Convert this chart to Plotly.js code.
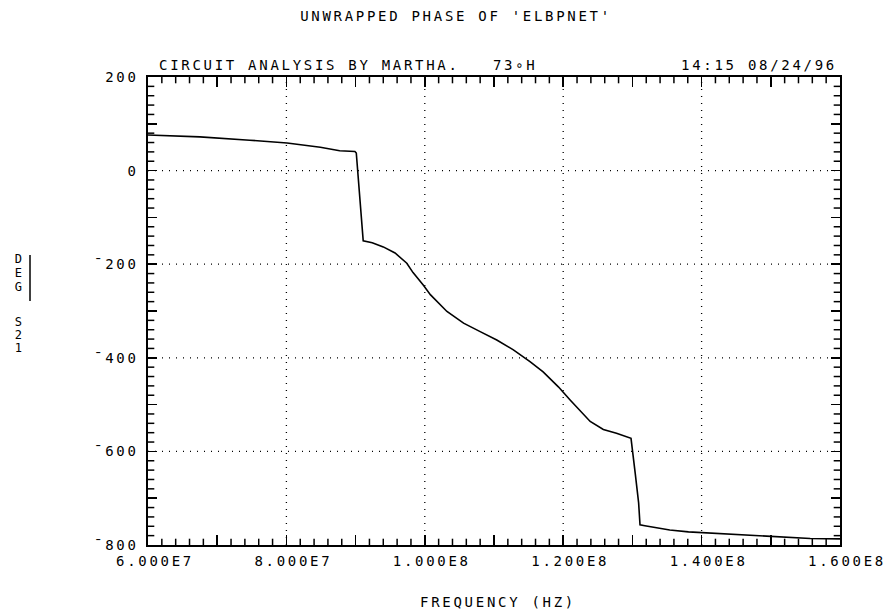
<!DOCTYPE html>
<html>
<head>
<meta charset="utf-8">
<script src="https://cdn.plot.ly/plotly-3.0.1.min.js"></script>
<style>
  html, body { margin: 0; padding: 0; background: #fff; }
  #chart svg text { letter-spacing: 2.7px; }
</style>
</head>
<body>
<div id="chart" style="width:893px;height:615px;"></div>
<script>
// ---- data ----
const freqHz = [
  6.00e7, 6.75e7, 7.47e7, 8.01e7, 8.49e7, 8.77e7, 8.99e7, 9.01e7,
  9.11e7, 9.24e7, 9.40e7, 9.57e7, 9.74e7, 9.83e7, 9.98e7, 1.008e8,
  1.032e8, 1.056e8, 1.080e8, 1.104e8, 1.128e8, 1.152e8, 1.171e8, 1.193e8,
  1.210e8, 1.239e8, 1.258e8, 1.277e8, 1.298e8, 1.300e8, 1.304e8, 1.309e8,
  1.311e8, 1.318e8, 1.354e8, 1.381e8, 1.431e8, 1.470e8, 1.509e8, 1.557e8, 1.600e8
];
const phaseDeg = [
  76, 72, 65, 59, 50, 42.5, 40.8, 37.6,
  -150, -154, -163, -176, -198, -218, -245, -265,
  -301, -326, -344, -362, -383, -408, -430, -462,
  -490, -536, -553, -561, -572, -601, -646, -710,
  -757, -759, -768, -772, -776, -779, -783, -786, -787
];
// tick labels: raw d3-formatted text -> text shown in the reference
const xRawLabels = ['6.000e+7', '8.000e+7', '1.000e+8', '1.200e+8', '1.400e+8', '1.600e+8'];
const xTickText  = ['6.000E7', '8.000E7', '1.000E8', '1.200E8', '1.400E8', '1.600E8'];
const yRawLabels = ['\u2212200', '\u2212400', '\u2212600', '\u2212800'];
const yTickText  = ['\u00AF200', '\u00AF400', '\u00AF600', '\u00AF800'];
const xRange = [6e7, 1.6e8];
const yRange = [-800, 200];
const xMajorStep = 1e7, xMinorPerMajor = 5;
const yMajorStep = 100, yMinorPerMajor = 5;
const xGrid = [8e7, 1e8, 1.2e8, 1.4e8];
const yGrid = [0, -200, -400, -600];
const titleText = "UNWRAPPED PHASE OF 'ELBPNET'";
const headerLeft = 'CIRCUIT ANALYSIS BY MARTHA.   73\u2218H';
const headerRight = '14:15 08/24/96';
const xTitle = 'FREQUENCY (HZ)';
const yLabelTop = ['D', 'E', 'G'];
const yLabelBottom = ['S', '2', '1'];

// ---- layout helpers (pixel -> paper) ----
const L = 148, R = 53, T = 77, B = 70, W = 893, H = 615;
const pw = W - L - R, ph = H - T - B;
const px = x => (x - L) / pw;
const py = y => (H - B - y) / ph;
const FONT = { family: 'DejaVu Sans Mono, Liberation Mono, monospace', size: 14, color: '#000' };
const SMALL = Object.assign({}, FONT, { size: 12 });

const xAlias = {}; xRawLabels.forEach((k, i) => { xAlias[k] = xTickText[i]; });
const yAlias = {}; yRawLabels.forEach((k, i) => { yAlias[k] = yTickText[i]; yAlias[k.replace('\u2212', '-')] = yTickText[i]; });

const annotations = [
  { text: titleText, x: px(456), y: py(16) },
  { text: headerLeft, x: px(348), y: py(65) },
  { text: headerRight, x: px(759), y: py(65) },
  { text: xTitle, x: px(498), y: py(602) }
];
const topY = [259, 273, 287];
const botY = [322, 335, 348];
yLabelTop.forEach((c, i) => annotations.push({ text: c, x: px(19), y: py(topY[i]), font: SMALL }));
yLabelBottom.forEach((c, i) => annotations.push({ text: c, x: px(19), y: py(botY[i]), font: SMALL }));
annotations.forEach(a => {
  a.xref = 'paper'; a.yref = 'paper'; a.showarrow = false;
  a.xanchor = 'center'; a.yanchor = 'middle';
  if (!a.font) a.font = FONT;
});

const shapes = [];
const dotLine = { color: '#000', width: 1.3, dash: '1px,6px' };
xGrid.forEach(v => shapes.push({ type: 'line', xref: 'x', yref: 'paper', x0: v, x1: v, y0: 0, y1: 1, layer: 'below', line: dotLine }));
yGrid.forEach(v => shapes.push({ type: 'line', xref: 'paper', yref: 'y', x0: 0, x1: 1, y0: v, y1: v, layer: 'below', line: dotLine }));
shapes.push({ type: 'line', xref: 'paper', yref: 'paper', x0: px(30), x1: px(30), y0: py(255), y1: py(301), line: { color: '#000', width: 1.5 } });

// minor tick positions between the major ticks
const xMinor = [];
const nx = Math.round((xRange[1] - xRange[0]) / xMajorStep) * xMinorPerMajor;
for (let i = 1; i < nx; i++) if (i % xMinorPerMajor) xMinor.push(xRange[0] + i * xMajorStep / xMinorPerMajor);
const yMinor = [];
const ny = Math.round((yRange[1] - yRange[0]) / yMajorStep) * yMinorPerMajor;
for (let i = 1; i < ny; i++) if (i % yMinorPerMajor) yMinor.push(yRange[0] + i * yMajorStep / yMinorPerMajor);

// minor ticks drawn as line markers sitting on the frame (clipped to the plot area -> inward half)
const tickMarker = sym => ({ symbol: sym, size: 9, color: '#000', line: { color: '#000', width: 1.5 } });
const tickTraces = [
  { x: xMinor, y: xMinor.map(() => yRange[0]), marker: tickMarker('line-ns') },
  { x: xMinor, y: xMinor.map(() => yRange[1]), marker: tickMarker('line-ns') },
  { x: yMinor.map(() => xRange[0]), y: yMinor, marker: tickMarker('line-ew') },
  { x: yMinor.map(() => xRange[1]), y: yMinor, marker: tickMarker('line-ew') }
].map(t => Object.assign(t, { type: 'scatter', mode: 'markers', hoverinfo: 'skip', cliponaxis: true }));

const trace = {
  x: freqHz, y: phaseDeg, type: 'scatter', mode: 'lines',
  line: { color: '#000', width: 1.6 }, hoverinfo: 'skip'
};

const common = {
  ticks: 'inside', tickcolor: '#000', tickwidth: 1.6,
  showline: true, linecolor: '#000', linewidth: 1.6,
  mirror: 'allticks', showgrid: false, zeroline: false, tickfont: FONT
};

const layout = {
  width: W, height: H,
  margin: { l: L, r: R, t: T, b: B, pad: 0 },
  paper_bgcolor: '#fff', plot_bgcolor: '#fff',
  showlegend: false,
  font: FONT,
  xaxis: Object.assign({}, common, {
    range: xRange, tickmode: 'linear', tick0: xRange[0], dtick: xMajorStep, ticklabelstep: 2,
    tickformat: '.3e', labelalias: xAlias,
    ticklen: 10, tickangle: 0, ticklabelstandoff: 3, ticklabelshift: 7
  }),
  yaxis: Object.assign({}, common, {
    range: yRange, tickmode: 'linear', tick0: yRange[0], dtick: yMajorStep, ticklabelstep: 2,
    labelalias: yAlias,
    ticklen: 9, ticklabelstandoff: 5
  }),
  annotations: annotations,
  shapes: shapes
};

Plotly.newPlot('chart', [trace].concat(tickTraces), layout, { displayModeBar: false, staticPlot: true });
</script>
</body>
</html>
